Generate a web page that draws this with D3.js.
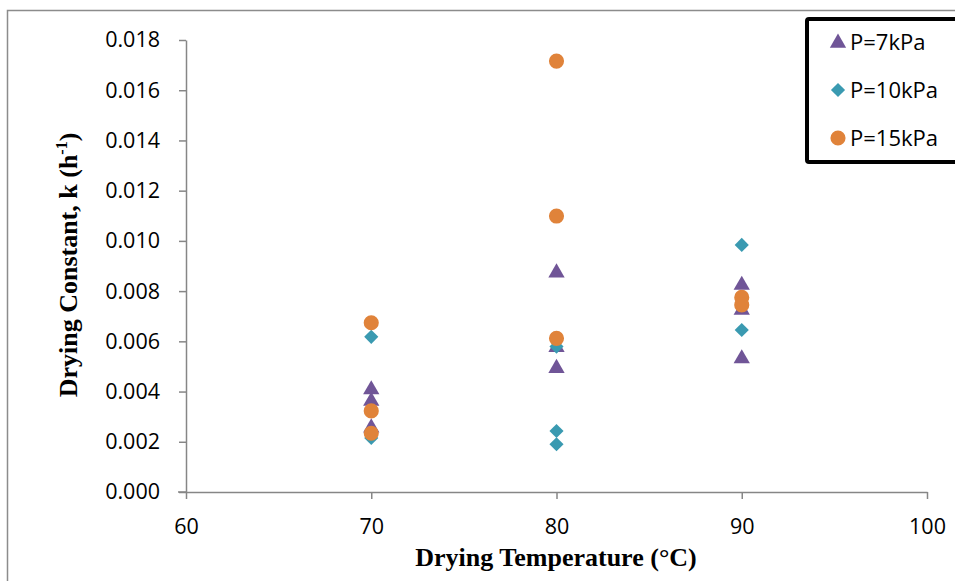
<!DOCTYPE html>
<html>
<head>
<meta charset="utf-8">
<script src="https://cdn.jsdelivr.net/npm/d3@7"></script>
<style>
  body { margin: 0; background: #fff; }
  svg { display: block; }
</style>
</head>
<body>
<div id="chart"></div>
<script>
// Drying constant vs temperature, three pressure series
const SERIES_NAMES = ["P=7kPa", "P=10kPa", "P=15kPa"];
const SERIES_SHAPES = ["triangle", "diamond", "circle"];
const SERIES_COLORS = ["#705597", "#3a9ab1", "#e0833a"];

const TEMP_7 = [70, 70, 70, 80, 80, 80, 90, 90, 90];
const K_7 = [0.00412, 0.00366, 0.0026, 0.00877, 0.0058, 0.00497, 0.00828, 0.00729, 0.00535];

const TEMP_10 = [70, 70, 80, 80, 80, 90, 90];
const K_10 = [0.00618, 0.00215, 0.00579, 0.00243, 0.0019, 0.00984, 0.00645];

const TEMP_15 = [70, 70, 70, 80, 80, 80, 90, 90];
const K_15 = [0.00674, 0.00323, 0.00234, 0.01716, 0.01099, 0.00612, 0.00775, 0.00745];

const X_TICKS = [60, 70, 80, 90, 100];
const Y_TICKS = [0, 0.002, 0.004, 0.006, 0.008, 0.010, 0.012, 0.014, 0.016, 0.018];

const width = 955, height = 581;
const svg = d3.select('#chart').append('svg')
    .attr('width', width)
    .attr('height', height);

// outer chart frame (only left and top edges visible)
svg.append('path')
    .attr('d', 'M7.5,581 L7.5,10.5 L955,10.5')
    .attr('fill', 'none')
    .attr('stroke', '#8c8c8c')
    .attr('stroke-width', 1.5);

const x = d3.scaleLinear().domain([60, 100]).range([186, 927]);
const y = d3.scaleLinear().domain([0, 0.018]).range([492, 40]);

const tickFont = "'Open Sans', 'Liberation Sans', sans-serif";
const titleFont = "'Liberation Serif', 'Times New Roman', serif";

// y axis
const yAxis = svg.append('g')
    .attr('transform', 'translate(186,0)')
    .call(d3.axisLeft(y).tickValues(Y_TICKS).tickFormat(d3.format('.3f')).tickSize(7).tickSizeOuter(0).tickPadding(19));

// x axis
const xAxis = svg.append('g')
    .attr('transform', 'translate(0,492)')
    .call(d3.axisBottom(x).tickValues(X_TICKS).tickSize(7).tickSizeOuter(0).tickPadding(20));

[yAxis, xAxis].forEach(ax => {
    ax.attr('font-size', null);
    ax.select('.domain').attr('stroke', '#868686').attr('stroke-width', 1.5);
    ax.selectAll('.tick line').attr('stroke', '#868686').attr('stroke-width', 1.5);
    ax.selectAll('text')
        .style('font-family', tickFont)
        .style('font-size', '21.5px')
        .attr('fill', '#000');
});

// x axis extends a bit left of the y axis
svg.append('line')
    .attr('x1', 178).attr('x2', 186)
    .attr('y1', 492).attr('y2', 492)
    .attr('stroke', '#868686').attr('stroke-width', 1.5);

// axis titles
svg.append('text')
    .attr('x', 556)
    .attr('y', 566)
    .attr('text-anchor', 'middle')
    .style('font-family', titleFont)
    .style('font-weight', 'bold')
    .style('font-size', '26px')
    .text('Drying Temperature (°C)');

const yTitle = svg.append('text')
    .attr('transform', 'translate(77,265) rotate(-90)')
    .attr('text-anchor', 'middle')
    .style('font-family', titleFont)
    .style('font-weight', 'bold')
    .style('font-size', '26px');
yTitle.append('tspan').text('Drying Constant, k (h');
yTitle.append('tspan').attr('dy', -10).style('font-size', '16px').text('-1');
yTitle.append('tspan').attr('dy', 10).text(')');

// markers
const symbolFor = {
    triangle: d3.symbol().type(d3.symbolTriangle).size(115),
    diamond: d3.symbol().type(d3.symbolSquare).size(100),
    circle: d3.symbol().type(d3.symbolCircle).size(180)
};

function markerPath(shape) {
    return symbolFor[shape]();
}

function markerTransform(shape, px, py) {
    if (shape === 'diamond') return `translate(${px},${py}) rotate(45)`;
    if (shape === 'triangle') return `translate(${px},${py + 1})`;
    return `translate(${px},${py})`;
}

const seriesData = [
    TEMP_7.map((t, i) => ({ t, k: K_7[i] })),
    TEMP_10.map((t, i) => ({ t, k: K_10[i] })),
    TEMP_15.map((t, i) => ({ t, k: K_15[i] }))
];

seriesData.forEach((pts, s) => {
    const shape = SERIES_SHAPES[s];
    svg.append('g').selectAll('path')
        .data(pts)
        .enter()
        .append('path')
        .attr('d', markerPath(shape))
        .attr('transform', d => markerTransform(shape, x(d.t), y(d.k)))
        .attr('fill', SERIES_COLORS[s]);
});

// legend
const legend = svg.append('g');
legend.append('rect')
    .attr('x', 807)
    .attr('y', 19)
    .attr('width', 160)
    .attr('height', 143)
    .attr('fill', '#fff')
    .attr('stroke', '#000')
    .attr('stroke-width', 4)
    .attr('rx', 2);

SERIES_NAMES.forEach((name, i) => {
    const ly = 42 + i * 48;
    const shape = SERIES_SHAPES[i];
    legend.append('path')
        .attr('d', markerPath(shape))
        .attr('transform', markerTransform(shape, 838, ly))
        .attr('fill', SERIES_COLORS[i]);
    legend.append('text')
        .attr('x', 850)
        .attr('y', ly + 8)
        .style('font-family', tickFont)
        .style('font-size', '22px')
        .attr('fill', '#000')
        .text(name);
});
</script>
</body>
</html>
